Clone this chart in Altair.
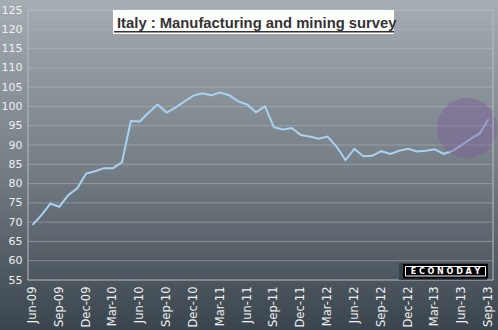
import altair as alt
import pandas as pd

# ---- data ----
months = list(pd.date_range("2009-06-01", periods=52, freq="MS").strftime("%b-%y"))
values = [69.3, 71.8, 74.8, 74.0, 77.0, 78.8, 82.6,
          83.2, 84.0, 84.0, 85.5, 96.2, 96.1, 98.4, 100.5, 98.4, 99.7, 101.3, 102.8,
          103.4, 102.9, 103.6, 102.9, 101.3, 100.5, 98.5, 100.0, 94.6, 94.0, 94.4, 92.6,
          92.2, 91.6, 92.2, 89.6, 86.1, 89.0, 87.1, 87.2, 88.4, 87.7, 88.5, 89.0,
          88.3, 88.5, 88.9, 87.7, 88.5, 90.0, 91.6, 93.0, 96.7]
y_ticks = list(range(55, 130, 5))
tick_idx = list(range(0, 52, 3))
tick_labels = [months[i] for i in tick_idx]
highlight_pos = [48.6]
highlight_val = [94.4]
title_text = "Italy : Manufacturing and mining survey"
logo_text = "E C O N O D A Y"

df = pd.DataFrame({"i": list(range(len(values))), "month": months, "value": values})
grid_df = pd.DataFrame({"v": y_ticks[1:-1]})
hl_df = pd.DataFrame({"i": highlight_pos, "value": highlight_val})

W, H = 465, 270
LABEL = "#eef0f2"
FONT = "DejaVu Sans"

xscale = alt.Scale(domain=[-0.5, 51.5], nice=False, zero=False)
yscale = alt.Scale(domain=[55, 125], nice=False, zero=False)

label_expr = "[" + ",".join("'%s'" % s for s in tick_labels) + "][round(datum.value/3)]"

xaxis = alt.Axis(values=tick_idx, labelExpr=label_expr, labelAngle=270, grid=False,
                 ticks=False, domain=False, labelFont=FONT, labelFontSize=11.5,
                 labelColor=LABEL, labelPadding=6, title=None, zindex=1,
                 labelOverlap=False)
yaxis = alt.Axis(values=y_ticks, grid=False, ticks=False, domain=False,
                 labelFont=FONT, labelFontSize=11, labelColor=LABEL,
                 labelPadding=6, title=None, zindex=1)

one = alt.Data(values=[{}])

gradient = alt.LinearGradient(
    gradient="linear",
    stops=[alt.GradientStop(color="#a5acb2", offset=0),
           alt.GradientStop(color="#767f86", offset=0.5),
           alt.GradientStop(color="#3a444c", offset=1)],
    x1=0, x2=0, y1=0, y2=1)

bg = alt.Chart(one).mark_rect(fill=gradient).encode(
    x=alt.value(-28), x2=alt.value(W + 5), y=alt.value(-10), y2=alt.value(H + 50))

grid = alt.Chart(grid_df).mark_rule(color="#b4bcc2", opacity=0.5, strokeWidth=1).encode(
    y=alt.Y("v:Q", scale=yscale, axis=yaxis))

border = alt.Chart(one).mark_rect(fill="transparent", stroke="#b6bdc2", strokeWidth=1).encode(
    x=alt.value(0), x2=alt.value(W), y=alt.value(0), y2=alt.value(H))

line = alt.Chart(df).mark_line(color="#a9d2f2", strokeWidth=2).encode(
    x=alt.X("i:Q", scale=xscale, axis=xaxis),
    y=alt.Y("value:Q", scale=yscale, axis=yaxis))

circle = alt.Chart(hl_df).mark_circle(size=3630, color="#7a579b", opacity=0.4).encode(
    x=alt.X("i:Q", scale=xscale, axis=xaxis),
    y=alt.Y("value:Q", scale=yscale, axis=yaxis))

title_box = alt.Chart(one).mark_rect(fill="white").encode(
    x=alt.value(85), x2=alt.value(366), y=alt.value(0), y2=alt.value(24))
title_rule = alt.Chart(one).mark_rule(color="#333333", strokeWidth=1.5).encode(
    x=alt.value(86), x2=alt.value(366), y=alt.value(21.8))
title_txt = alt.Chart(one).mark_text(
    text=title_text, font="Liberation Sans", fontWeight="bold", fontSize=14.8,
    color="#333333", align="left", baseline="alphabetic").encode(
    x=alt.value(89), y=alt.value(17.7))

logo_shadow = alt.Chart(one).mark_rect(fill="#3a4047").encode(
    x=alt.value(371), x2=alt.value(459), y=alt.value(253), y2=alt.value(270))
logo_box = alt.Chart(one).mark_rect(fill="black").encode(
    x=alt.value(375), x2=alt.value(460), y=alt.value(254), y2=alt.value(268.5))
logo_inner = alt.Chart(one).mark_rect(fill="transparent", stroke="white", strokeWidth=1).encode(
    x=alt.value(377.5), x2=alt.value(457.5), y=alt.value(256.5), y2=alt.value(266))
logo_txt = alt.Chart(one).mark_text(
    text=logo_text, font=FONT, fontWeight="bold", fontSize=8, color="white",
    align="center", baseline="middle").encode(x=alt.value(417.5), y=alt.value(261.5))

chart = alt.layer(
    bg, grid, line, circle, border,
    title_box, title_rule, title_txt,
    logo_shadow, logo_box, logo_inner, logo_txt
).properties(
    width=W, height=H,
    padding={"left": 28, "top": 10, "right": 5, "bottom": 50},
    autosize="none",
    background="#737c83"
).configure_view(strokeWidth=0)

chart.save("out.html", embed_options={"renderer": "svg", "actions": False})
